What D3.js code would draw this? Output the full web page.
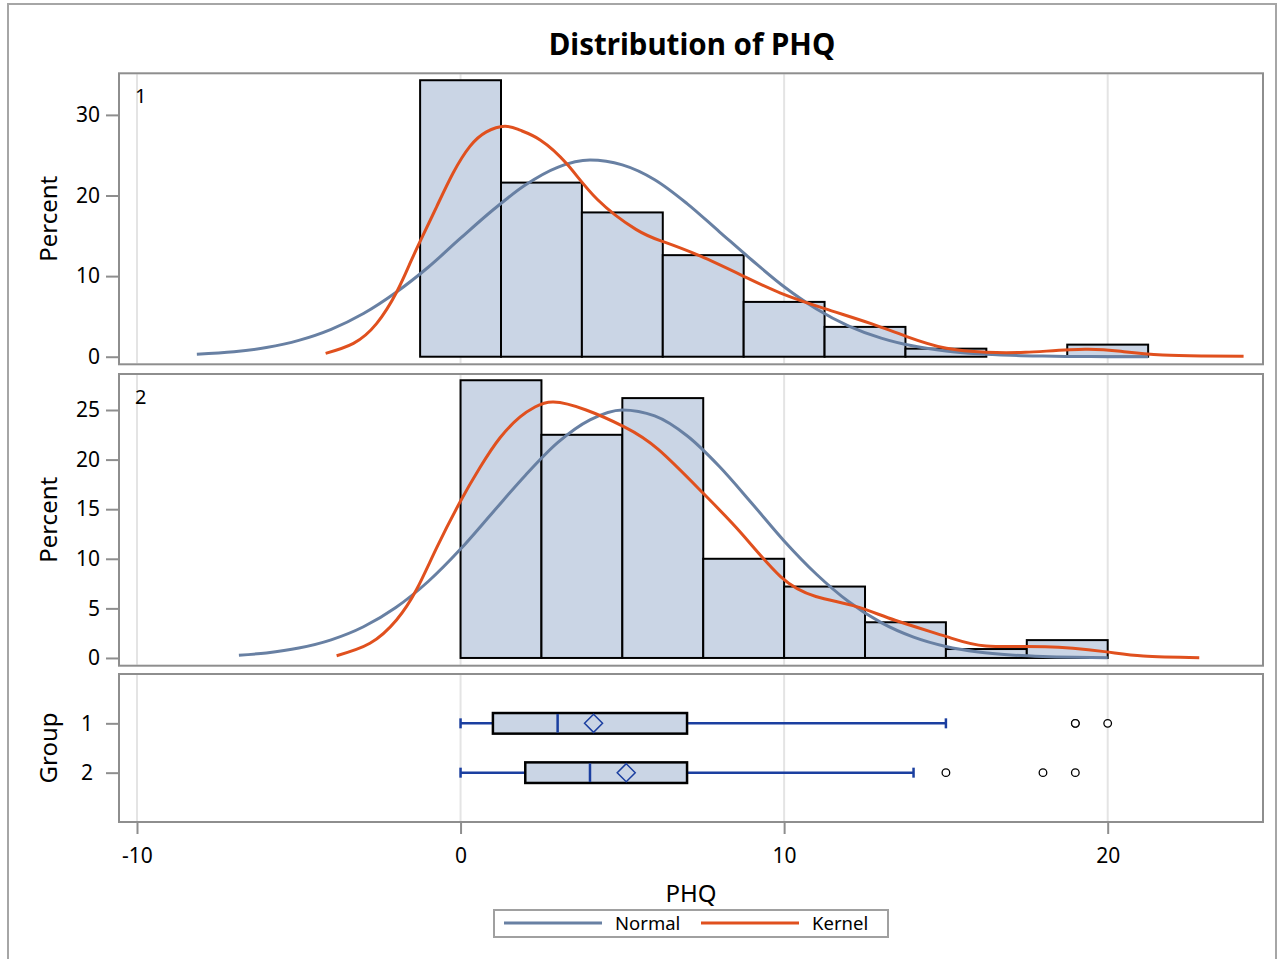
<!DOCTYPE html>
<html>
<head>
<meta charset="utf-8">
<script src="https://cdn.jsdelivr.net/npm/d3@7/dist/d3.min.js"></script>
<style>
  html, body { margin: 0; padding: 0; background: #fff; }
  svg text { font-family: "Noto Sans", "Open Sans", sans-serif; fill: #000; }
</style>
</head>
<body>
<svg id="chart" width="1285" height="959"></svg>
<script>
// ---------------- data ----------------
const title = "Distribution of PHQ";
const xTicks = [-10, 0, 10, 20];
const binWidth = 2.5;

// Group 1 histogram (bin midpoints, percent)
const group1Mids = [0, 2.5, 5, 7.5, 10, 12.5, 15, 17.5, 20];
const group1Pct  = [34.3, 21.6, 17.9, 12.6, 6.8, 3.7, 1.0, 0, 1.5];
// Group 2 histogram
const group2Mids = [1.25, 3.75, 6.25, 8.75, 11.25, 13.75, 16.25, 18.75];
const group2Pct  = [28.0, 22.5, 26.2, 10.0, 7.2, 3.6, 0.9, 1.8];

const group1YTicks = [0, 10, 20, 30];
const group2YTicks = [0, 5, 10, 15, 20, 25];

// Normal density curves (x, percent)
const normal1X = [-8.15, -7, -6, -5, -4, -3, -2, -1, 0, 1, 2, 3, 4, 5, 6, 7, 8, 9, 10, 11, 12, 13, 14, 15, 16, 17, 18, 19, 20, 21.25];
const normal1Y = [0.31, 0.61, 1.14, 2.03, 3.40, 5.36, 7.97, 11.1, 14.7, 18.2, 21.3, 23.5, 24.4, 23.8, 21.96, 19.0, 15.5, 12.0, 8.68, 5.93, 3.81, 2.31, 1.32, 0.71, 0.36, 0.17, 0.08, 0.03, 0.01, 0.0];
const normal2X = [-6.85, -6, -5, -4, -3, -2, -1, 0, 1, 2, 3, 4, 5, 6, 7, 8, 9, 10, 11, 12, 13, 14, 15, 16, 17, 18, 19, 20];
const normal2Y = [0.28, 0.51, 1.00, 1.83, 3.15, 5.09, 7.71, 10.98, 14.7, 18.4, 21.7, 24.0, 25.0, 24.4, 22.4, 19.3, 15.6, 11.8, 8.44, 5.66, 3.56, 2.10, 1.16, 0.61, 0.30, 0.14, 0.06, 0.02];

// Kernel density curves (x, percent)
const kernel1X = [-4.17, -3.31, -2.59, -1.97, -1.56, -1.25, -0.74, -0.23, 0.29, 0.80, 1.37, 1.84, 2.46, 3.29, 4.23, 5.42, 6.24, 7.4, 8.79, 9.89, 11.23, 12.69, 13.79, 15.02, 16.24, 17.46, 19.3, 20.5, 21.7, 22.96, 24.2];
const kernel1Y = [0.42, 1.66, 4.14, 8.06, 11.6, 14.3, 18.6, 22.8, 26.1, 27.9, 28.6, 28.1, 26.9, 23.9, 19.5, 15.8, 14.3, 12.5, 9.9, 7.9, 6.0, 4.1, 2.5, 1.04, 0.55, 0.55, 0.92, 0.62, 0.21, 0.1, 0.05];
const kernel2X = [-3.83, -2.80, -1.98, -1.36, -0.74, -0.02, 0.60, 1.22, 1.84, 2.3, 2.87, 3.88, 5.06, 6.12, 7.5, 8.67, 9.89, 10.98, 12.21, 13.43, 15.02, 16.24, 18.07, 19.9, 21.1, 22.83];
const kernel2Y = [0.23, 1.48, 3.83, 6.9, 11.1, 15.7, 19.2, 22.2, 24.3, 25.3, 25.8, 25.0, 23.3, 21.0, 16.6, 12.6, 8.2, 6.2, 5.2, 3.8, 2.15, 1.21, 1.14, 0.64, 0.2, 0.03];

// Box plot statistics
const groups     = ["1", "2"];
const boxMin     = [0, 0];
const boxQ1      = [1, 2];
const boxMedian  = [3, 4];
const boxMean    = [4.11, 5.12];
const boxQ3      = [7, 7];
const boxMax     = [15, 14];
const outliers1  = [19, 19, 20];
const outliers2  = [15, 18, 19];

const legendLabels = ["Normal", "Kernel"];

// ---------------- style ----------------
const C = {
  frame: "#8E8E8E", grid: "#E4E4E4", barFill: "#CAD5E5", barStroke: "#000",
  normal: "#6880A3", kernel: "#E0501E", whisker: "#1B3FA0"
};
const tickFont = "21px";

const svg = d3.select("#chart");

// outer border
svg.append("rect").attr("x", 8).attr("y", 4).attr("width", 1268).attr("height", 960)
  .attr("fill", "none").attr("stroke", "#A6A6A6").attr("stroke-width", 2);

svg.append("text").attr("x", 692).attr("y", 55).attr("text-anchor", "middle")
  .style("font-size", "29.5px").style("font-weight", "bold").text(title);

const left = 119, right = 1263;
const x = d3.scaleLinear().domain([-10.556, 24.80]).range([left, right]);

const panels = [
  { top: 73.3, bottom: 364.3, y: d3.scaleLinear().domain([-0.94, 35.16]).range([364.3, 73.3]),
    ticks: group1YTicks, mids: group1Mids, pct: group1Pct, label: "1",
    nx: normal1X, ny: normal1Y, kx: kernel1X, ky: kernel1Y },
  { top: 374, bottom: 665.7, y: d3.scaleLinear().domain([-0.78, 28.63]).range([665.7, 374]),
    ticks: group2YTicks, mids: group2Mids, pct: group2Pct, label: "2",
    nx: normal2X, ny: normal2Y, kx: kernel2X, ky: kernel2Y }
];

panels.forEach(p => {
  const g = svg.append("g");
  // grid
  g.selectAll(".grid").data(xTicks).enter().append("line")
    .attr("x1", d => x(d)).attr("x2", d => x(d))
    .attr("y1", p.top + 1).attr("y2", p.bottom - 1)
    .attr("stroke", C.grid).attr("stroke-width", 2);
  // bars
  const bars = p.mids.map((m, i) => ({ m, v: p.pct[i] })).filter(d => d.v > 0);
  g.selectAll(".bar").data(bars).enter().append("rect")
    .attr("x", d => x(d.m - binWidth / 2))
    .attr("width", d => x(d.m + binWidth / 2) - x(d.m - binWidth / 2))
    .attr("y", d => p.y(d.v))
    .attr("height", d => p.y(0) - p.y(d.v))
    .attr("fill", C.barFill).attr("stroke", C.barStroke).attr("stroke-width", 2);
  // curves
  const line = d3.line().x(d => x(d[0])).y(d => p.y(d[1])).curve(d3.curveMonotoneX);
  g.append("path").datum(p.nx.map((v, i) => [v, p.ny[i]]))
    .attr("d", line).attr("fill", "none").attr("stroke", C.normal).attr("stroke-width", 3);
  g.append("path").datum(p.kx.map((v, i) => [v, p.ky[i]]))
    .attr("d", d3.line().x(d => x(d[0])).y(d => p.y(d[1])).curve(d3.curveNatural))
    .attr("fill", "none").attr("stroke", C.kernel).attr("stroke-width", 3);
  // frame
  g.append("rect").attr("x", left).attr("y", p.top).attr("width", right - left)
    .attr("height", p.bottom - p.top).attr("fill", "none").attr("stroke", C.frame).attr("stroke-width", 2);
  // y axis
  const ax = d3.axisLeft(p.y).tickValues(p.ticks).tickSize(12).tickPadding(6);
  const ag = svg.append("g").attr("transform", `translate(${left - 1},0)`).call(ax);
  ag.select(".domain").remove();
  ag.selectAll(".tick line").attr("stroke", C.frame).attr("stroke-width", 2);
  ag.selectAll(".tick text").style("font-size", tickFont).style("font-family", "Noto Sans");
  // panel label
  svg.append("text").attr("x", 135).attr("y", p.top + 30).style("font-size", "20px").text(p.label);
  // y title
  svg.append("text").attr("transform", `translate(57,${(p.top + p.bottom) / 2}) rotate(-90)`)
    .attr("text-anchor", "middle").style("font-size", "24px").text("Percent");
});

// ---------------- box panel ----------------
const bTop = 674, bBottom = 822;
const yb = d3.scalePoint().domain(groups).range([bTop, bBottom]).padding(1);
const bg = svg.append("g");
bg.selectAll(".grid").data(xTicks).enter().append("line")
  .attr("x1", d => x(d)).attr("x2", d => x(d)).attr("y1", bTop + 1).attr("y2", bBottom - 1)
  .attr("stroke", C.grid).attr("stroke-width", 2);

const boxH = 20.6, capH = 10, dia = 9;
groups.forEach((gname, i) => {
  const cy = yb(gname);
  // whiskers
  bg.append("line").attr("x1", x(boxMin[i])).attr("x2", x(boxQ1[i])).attr("y1", cy).attr("y2", cy)
    .attr("stroke", C.whisker).attr("stroke-width", 2.5);
  bg.append("line").attr("x1", x(boxQ3[i])).attr("x2", x(boxMax[i])).attr("y1", cy).attr("y2", cy)
    .attr("stroke", C.whisker).attr("stroke-width", 2.5);
  [boxMin[i], boxMax[i]].forEach(v => {
    bg.append("line").attr("x1", x(v)).attr("x2", x(v)).attr("y1", cy - capH / 2).attr("y2", cy + capH / 2)
      .attr("stroke", C.whisker).attr("stroke-width", 2.5);
  });
  // box
  bg.append("rect").attr("x", x(boxQ1[i])).attr("width", x(boxQ3[i]) - x(boxQ1[i]))
    .attr("y", cy - boxH / 2).attr("height", boxH)
    .attr("fill", C.barFill).attr("stroke", "#000").attr("stroke-width", 2.5);
  // median
  bg.append("line").attr("x1", x(boxMedian[i])).attr("x2", x(boxMedian[i]))
    .attr("y1", cy - boxH / 2 + 1).attr("y2", cy + boxH / 2 - 1)
    .attr("stroke", C.whisker).attr("stroke-width", 2.5);
  // mean diamond
  const mx = x(boxMean[i]);
  bg.append("path").attr("d", `M${mx},${cy - dia} L${mx + dia},${cy} L${mx},${cy + dia} L${mx - dia},${cy} Z`)
    .attr("fill", "none").attr("stroke", C.whisker).attr("stroke-width", 1.5);
  // outliers
  const outs = i === 0 ? outliers1 : outliers2;
  bg.selectAll(null).data(outs).enter().append("circle")
    .attr("cx", d => x(d)).attr("cy", cy).attr("r", 3.8)
    .attr("fill", "#fff").attr("stroke", "#000").attr("stroke-width", 1.3);
});
bg.append("rect").attr("x", left).attr("y", bTop).attr("width", right - left)
  .attr("height", bBottom - bTop).attr("fill", "none").attr("stroke", C.frame).attr("stroke-width", 2);

const gy = svg.append("g").attr("transform", `translate(${left - 1},0)`)
  .call(d3.axisLeft(yb).tickSize(12).tickPadding(13));
gy.select(".domain").remove();
gy.selectAll(".tick line").attr("stroke", C.frame).attr("stroke-width", 2);
gy.selectAll(".tick text").style("font-size", tickFont).style("font-family", "Noto Sans");
svg.append("text").attr("transform", `translate(57,${(bTop + bBottom) / 2}) rotate(-90)`)
  .attr("text-anchor", "middle").style("font-size", "24px").text("Group");

// x axis
const gx = svg.append("g").attr("transform", `translate(0,${bBottom + 1})`)
  .call(d3.axisBottom(x).tickValues(xTicks).tickSize(11).tickPadding(14).tickFormat(d => String(d)));
gx.select(".domain").remove();
gx.selectAll(".tick line").attr("stroke", C.frame).attr("stroke-width", 2);
gx.selectAll(".tick text").style("font-size", tickFont).style("font-family", "Noto Sans");
svg.append("text").attr("x", 691).attr("y", 902).attr("text-anchor", "middle")
  .style("font-size", "24px").text("PHQ");

// legend
const lg = svg.append("g");
lg.append("rect").attr("x", 494).attr("y", 910).attr("width", 394).attr("height", 27)
  .attr("fill", "#fff").attr("stroke", "#A0A0A0").attr("stroke-width", 2);
const legColors = [C.normal, C.kernel];
const legX = [504, 701];
legendLabels.forEach((lab, i) => {
  lg.append("line").attr("x1", legX[i]).attr("x2", legX[i] + 98).attr("y1", 923).attr("y2", 923)
    .attr("stroke", legColors[i]).attr("stroke-width", 3);
  lg.append("text").attr("x", legX[i] + 111).attr("y", 930).style("font-size", "18.5px").text(lab);
});
</script>
</body>
</html>
